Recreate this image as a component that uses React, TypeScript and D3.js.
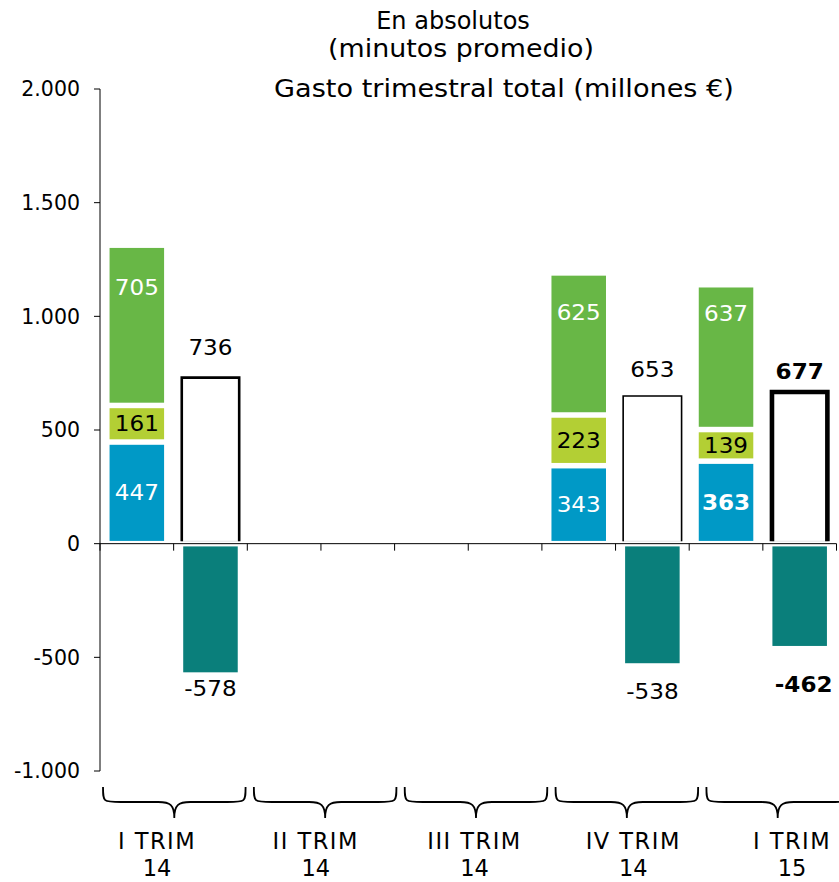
import React from "react";
import * as d3 from "d3";

// ---- data ----
const quarters = ["I TRIM|14", "II TRIM|14", "III TRIM|14", "IV TRIM|14", "I TRIM|15"];
const seriesBlue: (number | null)[] = [447, null, null, 343, 363];
const seriesLime: (number | null)[] = [161, null, null, 223, 139];
const seriesGreen: (number | null)[] = [705, null, null, 625, 637];
const seriesTotal: (number | null)[] = [736, null, null, 653, 677];
const seriesNegative: (number | null)[] = [-578, null, null, -538, -462];
const highlight = [false, false, false, false, true];
const yTicks = [-1000, -500, 0, 500, 1000, 1500, 2000];
const yTickLabels = ["-1.000", "-500", "0", "500", "1.000", "1.500", "2.000"];
const titleLines = ["En absolutos", "(minutos promedio)", "Gasto trimestral total (millones €)"];

// ---- styles ----
const W = 839;
const H = 882;
const FONT = "'DejaVu Sans', Verdana, sans-serif";
const C_BLUE = "#0099c6";
const C_LIME = "#b3cf34";
const C_GREEN = "#68b746";
const C_TEAL = "#0a7f7b";
const totalStroke = [2.6, 0, 0, 1.6, 4.6];
const totalLabelGap = [21, 0, 0, 18, 11];
const negLabelGap = [21, 0, 0, 33, 43];
const greenLabelGap = [50, 0, 0, 47, 36];
const SX = 1.1;
const LFS = 21;

export default function App() {
  const y = d3.scaleLinear().domain([-1000, 2000]).range([771, 89]);
  const slots = d3.range(quarters.length * 2).map(String);
  const xSlot = d3.scaleBand<string>().domain(slots).range([100, 836.5]).padding(0);
  const step = xSlot.step();
  const barW = step * 0.815;
  const xBrace = d3.scaleBand<string>().domain(quarters).range([100, 852]).paddingInner(0.055).paddingOuter(0.02);
  const xLabel = d3.scalePoint<string>().domain(quarters).range([157, 792]);
  const inset = 2.75;
  const y0 = y(0);

  const segs: any[] = [];
  quarters.forEach((q, i) => {
    if (seriesBlue[i] == null) return;
    const cx = (xSlot(String(2 * i)) as number) + step / 2;
    let base = 0;
    const parts = [
      { v: seriesBlue[i] as number, c: C_BLUE, tc: "#fff", key: "b", bold: highlight[i] },
      { v: seriesLime[i] as number, c: C_LIME, tc: "#000", key: "l", bold: false },
      { v: seriesGreen[i] as number, c: C_GREEN, tc: "#fff", key: "g", bold: false },
    ];
    parts.forEach((p) => {
      const top = y(base + p.v);
      const bot = y(base);
      const ly = p.key === "g" ? top + greenLabelGap[i] : (top + bot) / 2 + 7.5;
      segs.push(
        <g key={q + p.key}>
          <rect x={cx - barW / 2 + inset} y={top + inset} width={barW - 2 * inset} height={bot - top - 2 * inset} fill={p.c} />
          <text
            transform={`translate(${cx},${ly}) scale(${SX},1)`}
            textAnchor="middle"
            fontSize={LFS}
            fontWeight={p.bold ? "bold" : "normal"}
            fill={p.tc}
          >
            {String(p.v)}
          </text>
        </g>
      );
      base += p.v;
    });
  });

  const totals: any[] = [];
  quarters.forEach((q, i) => {
    const t = seriesTotal[i];
    const n = seriesNegative[i];
    if (t == null || n == null) return;
    const cx = (xSlot(String(2 * i + 1)) as number) + step / 2;
    const sw = totalStroke[i];
    const l = cx - barW / 2 + sw / 2;
    const r = cx + barW / 2 - sw / 2;
    const yt = y(t) + sw / 2;
    totals.push(
      <g key={q + "t"}>
        <rect x={l} y={yt} width={r - l} height={y0 - 2.5 - yt} fill="#fff" stroke="#ddd" strokeWidth={0.8} />
        <path d={`M${l},${y0 - 2.5}L${l},${yt}L${r},${yt}L${r},${y0 - 2.5}`} fill="none" stroke="#000" strokeWidth={sw} />
        <text
          transform={`translate(${cx},${y(t) - totalLabelGap[i]}) scale(${SX},1)`}
          textAnchor="middle"
          fontSize={LFS}
          fontWeight={highlight[i] ? "bold" : "normal"}
          fill="#000"
        >
          {String(t)}
        </text>
        <rect x={cx - barW / 2 + inset} y={y0 + inset} width={barW - 2 * inset} height={y(n) - y0 - 2 * inset} fill={C_TEAL} />
        <text
          transform={`translate(${cx + (highlight[i] ? 4 : 0)},${y(n) + negLabelGap[i]}) scale(${SX},1)`}
          textAnchor="middle"
          fontSize={LFS}
          fontWeight={highlight[i] ? "bold" : "normal"}
          fill="#000"
        >
          {String(n)}
        </text>
      </g>
    );
  });

  const braceTop = 787;
  const braceMid = 802;
  const braceTip = 818;

  return (
    <svg width={W} height={H} style={{ position: "absolute", left: 0, top: 0 }} fontFamily={FONT}>
      <rect width={W} height={H} fill="#fff" />
      {/* titles */}
      <text transform={`translate(453,29) scale(1.0,1)`} textAnchor="middle" fontSize={24}>{titleLines[0]}</text>
      <text transform={`translate(461,57) scale(1.12,1)`} textAnchor="middle" fontSize={24}>{titleLines[1]}</text>
      <text transform={`translate(504,97) scale(1.13,1)`} textAnchor="middle" fontSize={24}>{titleLines[2]}</text>

      {segs}
      {totals}

      {/* y axis */}
      <line x1={100} x2={100} y1={y(2000)} y2={y(-1000)} stroke="#000" strokeWidth={1} />
      {yTicks.map((t, i) => (
        <g key={t}>
          <line x1={94} x2={100} y1={y(t)} y2={y(t)} stroke="#000" strokeWidth={1} />
          <text x={80} y={y(t)} dy="0.36em" textAnchor="end" fontSize={20.5} fill="#000">
            {yTickLabels[i]}
          </text>
        </g>
      ))}

      {/* x axis */}
      <line x1={100} x2={836.5} y1={y0} y2={y0} stroke="#000" strokeWidth={1} />
      {slots.concat(["end"]).map((s, i) => {
        const x = 100 + i * step;
        return <line key={s} x1={x} x2={x} y1={y0} y2={y0 + 7} stroke="#000" strokeWidth={1} />;
      })}

      {/* braces */}
      {quarters.map((q) => {
        const x0 = xBrace(q) as number;
        const x1 = x0 + xBrace.bandwidth();
        const cx = (x0 + x1) / 2;
        const d = `M${x0},${braceTop} C${x0},${braceMid} ${x0},${braceMid} ${x0 + 18},${braceMid} L${cx - 16},${braceMid} C${cx - 4},${braceMid} ${cx},${braceMid + 3} ${cx},${braceTip} C${cx},${braceMid + 3} ${cx + 4},${braceMid} ${cx + 16},${braceMid} L${x1 - 18},${braceMid} C${x1},${braceMid} ${x1},${braceMid} ${x1},${braceTop}`;
        return <path key={q} d={d} fill="none" stroke="#000" strokeWidth={1.8} />;
      })}

      {/* category labels */}
      {quarters.map((q) => {
        const [a, b] = q.split("|");
        const x = xLabel(q) as number;
        return (
          <g key={q + "lab"}>
            <text x={x} y={849} textAnchor="middle" fontSize={22.5} letterSpacing={1.5}>{a}</text>
            <text x={x} y={876} textAnchor="middle" fontSize={22.5}>{b}</text>
          </g>
        );
      })}
    </svg>
  );
}
